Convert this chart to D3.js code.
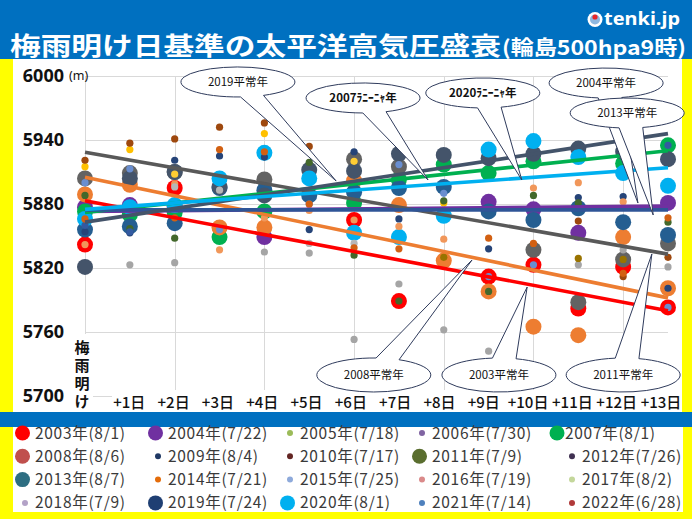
<!DOCTYPE html>
<html><head><meta charset="utf-8">
<script src="https://cdn.jsdelivr.net/npm/d3@7"></script>
<style>html,body{margin:0;padding:0;background:#fff;overflow:hidden}</style>
</head><body>
<svg id="c" width="692" height="519"></svg>
<script>
// ---------- data ----------
const dayLabels = ["梅雨明け","+1日","+2日","+3日","+4日","+5日","+6日","+7日","+8日","+9日","+10日","+11日","+12日","+13日"];
const yTicks = [5700, 5760, 5820, 5880, 5940, 6000];
const titleMain = "梅雨明け日基準の太平洋高気圧盛衰";
const titleSub = "(輪島500hpa9時)";

const years = ["2003","2004","2005","2006","2007","2008","2009","2010","2011","2012","2013","2014","2015","2016","2017","2018","2019","2020","2021","2022"];
const legendLabels = ["2003年(8/1)","2004年(7/22)","2005年(7/18)","2006年(7/30)","2007年(8/1)",
  "2008年(8/6)","2009年(8/4)","2010年(7/17)","2011年(7/9)","2012年(7/26)",
  "2013年(8/7)","2014年(7/21)","2015年(7/25)","2016年(7/19)","2017年(8/2)",
  "2018年(7/9)","2019年(7/24)","2020年(8/1)","2021年(7/14)","2022年(6/28)"];

const s2003 = [5842, null, 5895, null, null, null, 5865, 5789, null, 5812, 5823, 5782, 5821, 5783];
const s2004 = [5877, 5879, 5878, null, 5849, null, null, null, null, 5882, 5875, 5853, null, 5881];
const s2005 = [null, 5823, 5825, null, 5835, 5834, 5753, 5805, 5762, 5742, null, 5823, 5837, 5821];
const s2006 = [5915, 5931, null, null, 5946, null, null, null, 5881, null, null, null, null, null];
const s2007 = [5873, 5870, 5872, 5849, 5873, null, 5881, 5903, 5917, 5909, 5920, null, 5918, 5935];
const s2008 = [5889, 5898, null, 5858, 5858, null, 5902, 5879, 5827, 5798, 5765, 5757, 5849, 5801];
const s2009 = [5854, 5853, 5921, 5925, 5924, 5856, 5929, 5866, null, 5838, null, 5886, 5887, 5801];
const s2010 = [5921, 5937, 5941, 5952, 5956, 5934, null, null, null, null, null, 5864, 5812, 5830];
const s2011 = [5904, 5909, 5910, null, 5903, null, 5922, 5915, null, null, 5837, 5788, 5828, 5843];
const s2012 = [null, null, null, null, null, null, null, null, 5830, null, null, 5829, 5828, null];
const s2013 = [5856, 5859, 5862, 5895, 5893, 5888, 5891, 5895, 5896, 5873, 5865, 5876, 5863, 5851];
const s2014 = [5888, 5857, 5848, null, null, 5919, 5832, 5789, 5883, 5798, 5888, 5881, null, 5863];
const s2015 = [5900, 5913, null, 5856, null, 5880, null, 5917, 5890, 5812, 5823, null, null, 5783];
const s2016 = [5842, null, 5899, 5837, 5867, 5874, 5865, 5859, 5847, null, 5895, 5900, 5882, null];
const s2017 = [null, null, 5896, 5893, null, 5843, 5843, null, null, null, null, null, null, null];
const s2018 = [null, null, 5908, null, null, null, 5920, null, null, null, null, null, null, null];
const s2019 = [5821, 5904, 5910, 5896, 5888, 5912, 5911, 5927, 5926, 5923, 5927, 5932, 5929, 5922];
const s2020 = [5866, 5877, 5879, 5904, 5928, 5904, 5853, 5849, 5869, 5931, 5939, 5924, 5909, 5897];
const s2021 = [5860, 5854, null, null, null, null, null, null, null, null, null, null, null, 5935];
const s2022 = [5866, 5875, 5867, 5931, 5929, 5880, 5839, 5838, null, 5848, 5843, null, 5815, 5867];
const seriesValues = [s2003,s2004,s2005,s2006,s2007,s2008,s2009,s2010,s2011,s2012,s2013,s2014,s2015,s2016,s2017,s2018,s2019,s2020,s2021,s2022];

const isBig = [true,true,false,false,true,true,false,false,true,false,true,false,false,false,false,false,true,true,false,false];
const plotColors = ["#ff0000","#7030a0","#a5a5a5","#ffc000","#00b050","#ed7d31","#264478","#9e480e","#636363","#997300",
  "#255e91","#43682b","#698ed0","#f1975a","#b7b7b7","#ffcd33","#44546a","#00b0f0","#335aa1","#d26012"];
const legendColors = ["#ff0000","#7030a0","#9bbb59","#8064a2","#00b050","#c0504d","#1f3864","#632523","#5a6e2f","#403152",
  "#2e6e82","#e46c0a","#8eaadb","#da8a8a","#c4d79b","#b3a2c7","#1f3f73","#00b0f0","#4f81bd","#b03a3a"];

// trend lines (value at 梅雨明け and at +13日)
const trendNames  = ["2003","2004","2007","2008","2011","2013","2019","2020"];
const trendStart  = [5883, 5873, 5872, 5905, 5928.5, 5874.5, 5863, 5875];
const trendEnd    = [5780, 5878, 5930, 5792, 5833, 5874.5, 5946, 5914];
const trendColors = ["#ff0000","#7030a0","#00b050","#ed7d31","#595959","#2f5597","#44546a","#00b0f0"];

// callouts
const calloutLabels = ["2019平常年","2007ﾗﾆｰﾆｬ年","2020ﾗﾆｰﾆｬ年","2004平常年","2013平常年","2008平常年","2003平常年","2011平常年"];
const calloutDay = [3.41, 6.20, 8.87, 11.62, 12.09, 6.44, 9.23, 12.0];
const calloutVal = [5994.4, 5979.4, 5984.1, 5993.4, 5965.3, 5719.7, 5719.7, 5719.7];
const apexDay = [5.60, 7.65, 9.74, 12.33, 12.67, 8.63, 9.86, 12.64];
const apexVal = [5901.6, 5902.5, 5902.5, 5880.9, 5869.7, 5827.5, 5802.2, 5833.1];

// ---------- drawing ----------
const svg = d3.select("#c");
const BLUE = "#0070c0";
const x = d3.scaleLinear().domain([0, 13]).range([85, 668]);
const xl = d3.scaleLinear().domain([0, 13]).range([85, 661]);
const y = d3.scaleLinear().domain([5700, 6000]).range([396, 76]);

svg.append("rect").attr("x",0).attr("y",0).attr("width",692).attr("height",519).attr("fill","#ffff00");
svg.append("rect").attr("x",13).attr("y",59).attr("width",669).attr("height",353).attr("fill","#fff");
svg.append("rect").attr("x",0).attr("y",0).attr("width",692).attr("height",59).attr("fill",BLUE);
svg.append("rect").attr("x",0).attr("y",412).attr("width",692).attr("height",15).attr("fill",BLUE);
svg.append("rect").attr("x",13).attr("y",427).attr("width",670).attr("height",85).attr("fill","#fff");

// title
svg.append("text").attr("x",10).attr("y",55).text(titleMain)
  .attr("font-family","'Noto Sans CJK JP'").attr("font-weight","bold").attr("font-size",25)
  .attr("fill","#fff").attr("textLength",491).attr("lengthAdjust","spacingAndGlyphs");
svg.append("text").attr("x",502).attr("y",55).text(titleSub)
  .attr("font-family","'Noto Sans CJK JP'").attr("font-weight","bold").attr("font-size",20)
  .attr("fill","#fff").attr("textLength",184).attr("lengthAdjust","spacingAndGlyphs");
// tenki.jp logo
const lg = svg.append("g");
lg.append("circle").attr("cx",595).attr("cy",19.5).attr("r",7.5).attr("fill","#fff");
lg.append("circle").attr("cx",595).attr("cy",19.5).attr("r",5).attr("fill","#8fb8e0");
lg.append("circle").attr("cx",595).attr("cy",17).attr("r",2.6).attr("fill","#e8262a");
lg.append("text").attr("x",604).attr("y",25).text("tenki.jp")
  .attr("font-family","'Noto Sans'").attr("font-weight","bold").attr("font-size",17)
  .attr("fill","#fff").attr("textLength",76).attr("lengthAdjust","spacingAndGlyphs");

// gridlines
const grid = svg.append("g").attr("stroke","#d9d9d9").attr("stroke-width",1);
grid.selectAll("line.h").data(yTicks).join("line")
  .attr("x1",x(0)).attr("x2",x(13)).attr("y1",d=>Math.round(y(d))+0.5).attr("y2",d=>Math.round(y(d))+0.5);
grid.selectAll("line.v").data(d3.range(0,13,2)).join("line")
  .attr("x1",d=>Math.round(x(d))+0.5).attr("x2",d=>Math.round(x(d))+0.5).attr("y1",y(6000)).attr("y2",y(5700));
// label boxes covering grid
svg.append("rect").attr("x",112).attr("y",390).attr("width",570).attr("height",22).attr("fill","#fff");
svg.append("rect").attr("x",70).attr("y",334).attr("width",23).attr("height",78).attr("fill","#fff");

// y labels
svg.selectAll("text.yl").data(yTicks).join("text")
  .attr("x",64).attr("y",d=>y(d)).attr("dy","0.36em").attr("text-anchor","end")
  .attr("font-family","'Noto Sans'").attr("font-weight","bold").attr("font-size",18).attr("fill","#111")
  .text(d=>d);
svg.append("text").attr("x",69).attr("y",80).text("(m)")
  .attr("font-family","'Noto Sans'").attr("font-size",12.5).attr("fill","#111");

// x labels
svg.selectAll("text.xl").data(dayLabels.slice(1)).join("text")
  .attr("x",(d,i)=>xl(i+1)).attr("y",408).attr("text-anchor","middle")
  .attr("font-family","'Noto Sans CJK JP'").attr("font-weight","500").attr("font-size",15).attr("fill","#111")
  .text(d=>d);
// first category label written vertically as a single text
svg.append("text").attr("x",82).attr("y",340)
  .attr("writing-mode","vertical-rl").attr("letter-spacing","3px")
  .attr("font-family","'Noto Sans CJK JP'").attr("font-weight","bold").attr("font-size",15).attr("fill","#111")
  .text(dayLabels[0]);

// markers: big first, then small, each in year order
const order = d3.range(years.length).filter(i=>isBig[i]).concat(d3.range(years.length).filter(i=>!isBig[i]));
const pts = [];
order.forEach(i=>{
  seriesValues[i].forEach((v,d)=>{ if(v!==null) pts.push({d, v, c: plotColors[i], r: isBig[i]?8:3.6}); });
});
svg.append("g").selectAll("circle").data(pts).join("circle")
  .attr("cx",p=>x(p.d)).attr("cy",p=>y(p.v)).attr("r",p=>p.r).attr("fill",p=>p.c);

// trend lines
svg.append("g").selectAll("line").data(trendNames).join("line")
  .attr("x1",x(0)).attr("x2",x(13))
  .attr("y1",(d,i)=>y(trendStart[i])).attr("y2",(d,i)=>y(trendEnd[i]))
  .attr("stroke",(d,i)=>trendColors[i]).attr("stroke-width",3.6).attr("stroke-linecap","butt");

// callouts
const cg = svg.append("g");
calloutLabels.forEach((lab,i)=>{
  const cx = x(calloutDay[i]), cy = y(calloutVal[i]);
  const ax = x(apexDay[i]), ay = y(apexVal[i]);
  const rx = 57, ry = calloutVal[i] < 5800 ? 17 : 15;
  const a = Math.atan2((ay-cy)/ry, (ax-cx)/rx);
  const dl = 12*Math.PI/180;
  const p1 = [cx+rx*Math.cos(a-dl), cy+ry*Math.sin(a-dl)];
  const p2 = [cx+rx*Math.cos(a+dl), cy+ry*Math.sin(a+dl)];
  const path = `M${p2[0]},${p2[1]} A${rx},${ry} 0 1 1 ${p1[0]},${p1[1]} L${ax},${ay} Z`;
  cg.append("path").attr("d",path).attr("fill","#fff").attr("stroke","#2f3b5c").attr("stroke-width",1);
  cg.append("text").attr("x",cx).attr("y",cy).attr("dy","0.36em").attr("text-anchor","middle")
    .attr("font-family","'Noto Sans CJK JP'").attr("font-size",11.5)
    .attr("font-weight", lab.includes("ﾆｬ") ? "bold" : "normal").attr("fill","#111").text(lab);
});

// legend
const colText = [35,168,300,432,582];
const leg = svg.append("g");
legendLabels.forEach((lab,i)=>{
  const row = Math.floor(i/5), col = i%5;
  const big = isBig[i];
  let tx = colText[col];
  let mx = big ? tx-12.5 : tx-10;
  if (col===4 && big) { tx = 565; mx = 557; }
  const ry = 433 + row*23.3;
  leg.append("circle").attr("cx",mx).attr("cy",ry).attr("r",big?7.5:3).attr("fill",legendColors[i]);
  leg.append("text").attr("x",tx).attr("y",ry).attr("dy","0.36em")
    .attr("font-family","'Noto Sans CJK JP'").attr("font-size",15.5).attr("letter-spacing","0.7px")
    .attr("fill","#3a3a3a").text(lab);
});
</script>
</body></html>
